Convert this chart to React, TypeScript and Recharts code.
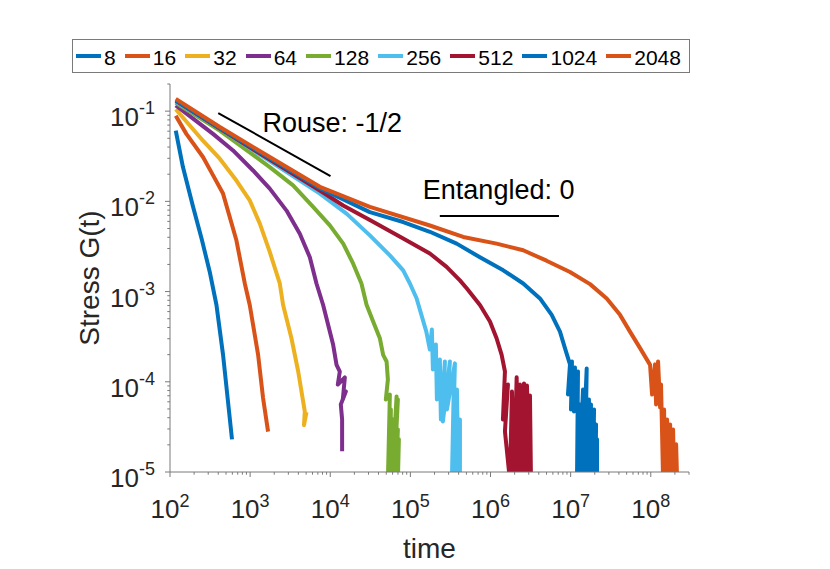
import { Legend, Line, LineChart, ReferenceDot, ReferenceLine, XAxis, YAxis } from 'recharts';

const FONT = '"Liberation Sans", Arial, Helvetica, sans-serif';
const INK = '#262626';
const AXIS = '#7a7a7a';

// chain lengths, MATLAB default colour order
const sizes = ['8', '16', '32', '64', '128', '256', '512', '1024', '2048'];
const colors = ['#0072BD', '#D95319', '#EDB120', '#7E2F8E', '#77AC30', '#4DBEEE', '#A2142F', '#0072BD', '#D95319'];

// G(t), one pair of arrays per chain length.
// The noisy tails go back and forth, as in the plotted simulation output.
const t8 = [118, 145, 194, 249, 313, 380, 459, 594];
const g8 = [0.061, 0.024, 0.0087, 0.0038, 0.00166, 7.1e-4, 2.0e-4, 2.3e-5];

const t16 = [118, 160, 258, 341, 459, 674, 858, 989, 1257, 1450, 1675];
const g16 = [0.089, 0.056, 0.031, 0.0198, 0.0122, 0.0037, 0.00123, 7.1e-4, 2.0e-4, 6.6e-5, 2.8e-5];

const t32 = [118, 258, 418, 674, 989, 1318, 1758, 2345, 2580, 3280, 3980, 4810, 4700, 5050];
const g32 = [0.105, 0.047, 0.0297, 0.017, 0.01026, 0.0057, 0.00275, 0.00123, 7.1e-4, 3.04e-4, 1.3e-4, 4.7e-5, 3.3e-5, 4.6e-5];

const t64 = [118, 344, 612, 1088, 1758, 2845, 4169, 5560, 6730, 8150, 10870, 11980, 13160, 12420, 15210, 14350, 15650, 13540, 14060, 14060];
const g64 = [0.116, 0.056, 0.0367, 0.022, 0.01384, 0.0079, 0.00438, 0.0024, 0.00123, 7.1e-4, 2.57e-4, 1.54e-4, 1.3e-4, 9.33e-5, 1.12e-4, 6.36e-5, 7.82e-5, 5.6e-5, 3.82e-5, 1.7e-5];

const t128 = [
  118, 418, 1758, 3436, 6110, 9886, 14500, 19320, 24500, 28380, 34290, 41560, 45710, 50450, 52380, 49400, 55460, 52380,
  57080, 55460, 60420, 58770, 67250, 65900, 69820, 62230, 69820, 65900, 71840, 69820,
];
const g128 = [
  0.124, 0.061, 0.024, 0.01503, 0.0087, 0.00542, 0.0034, 0.00204, 0.00123, 7.13e-4, 4.65e-4, 3.04e-4, 1.99e-4, 1.68e-4,
  1.06e-4, 6.36e-5, 7.23e-5, 8e-6, 4.93e-5, 8e-6, 3.82e-5, 8e-6, 6.88e-5, 2.61e-5, 6.36e-5, 8e-6, 2.96e-5, 8e-6, 2.3e-5, 8e-6,
];

const t256 = [
  118, 418, 1758, 7420, 15960, 31200, 55460, 81300, 98600, 119400, 158000, 175100, 185400, 191000, 208000, 214200, 233300,
  240300, 269600, 254500, 311300, 285800, 359500, 329800, 349400, 364800, 381000, 397500, 415200, 415200,
];
const g256 = [
  0.127, 0.064, 0.028, 0.0122, 0.00731, 0.0042, 0.00252, 0.00172, 0.00123, 8.43e-4, 3.6e-4, 2.28e-4, 3.8e-4, 1.37e-4, 2.59e-4,
  6.36e-5, 1.77e-4, 3.82e-5, 1.68e-4, 3.63e-5, 1.68e-4, 4.93e-5, 1.6e-4, 8e-6, 1.06e-4, 8e-6, 8.2e-5, 8e-6, 3.82e-5, 8e-6,
];

const t512 = [
  118, 418, 1758, 7420, 14490, 31200, 81300, 175000, 283000, 415000, 504000, 738000, 984000, 1.19e6, 1.377e6, 1.514e6,
  1.429e6, 1.65e6, 1.514e6, 1.748e6, 1.852e6, 1.962e6, 2.12e6, 2.201e6, 2.332e6, 2.47e6, 2.617e6, 2.77e6, 2.851e6, 3.02e6,
  3.107e6, 3.199e6,
];
const g512 = [
  0.13, 0.064, 0.029, 0.0132, 0.009, 0.0062, 0.00387, 0.00264, 0.00188, 0.00133, 0.00109, 7.1e-4, 4.65e-4, 3.04e-4, 1.99e-4,
  1.3e-4, 3.82e-5, 9.33e-5, 2.82e-5, 8e-6, 7.8e-5, 8e-6, 1.12e-4, 8e-6, 9.33e-5, 8e-6, 9.6e-5, 8e-6, 9.1e-5, 8e-6, 7.05e-5, 8e-6,
];

const t1024 = [
  118, 418, 1758, 7420, 31200, 81300, 175000, 378000, 738000, 1.443e6, 2.56e6, 4.14e6, 5.8e6, 7.36e6, 8.49e6, 9.81e6, 9.26e6,
  1.039e7, 1.01e7, 1.133e7, 1.101e7, 1.235e7, 1.2e7, 1.308e7, 1.271e7, 1.427e7, 1.386e7, 1.586e7, 1.511e7, 1.694e7, 1.623e7,
  1.794e7, 1.744e7, 1.959e7, 1.902e7, 2.075e7, 2.044e7, 2.135e7, 2.135e7,
];
const g1024 = [
  0.132, 0.065, 0.03, 0.014, 0.0076, 0.0059, 0.0046, 0.0034, 0.0024, 0.00172, 0.00123, 8.4e-4, 5.52e-4, 3.6e-4, 2.36e-4,
  1.56e-4, 7.23e-5, 1.68e-4, 4.93e-5, 1.44e-4, 4.69e-5, 1.3e-4, 8e-6, 5.6e-5, 8e-6, 8.2e-5, 8e-6, 1.4e-4, 8e-6, 6.36e-5, 8e-6,
  5.6e-5, 8e-6, 4.93e-5, 8e-6, 3.37e-5, 8e-6, 2.3e-5, 8e-6,
];

const t2048 = [
  118, 418, 1758, 7420, 31200, 175000, 456000, 1.19e6, 2.56e6, 5.0e6, 9.81e6, 1.746e7, 2.82e7, 4.13e7, 5.5e7, 7.35e7, 9.8e7,
  1.038e8, 1.13e8, 1.165e8, 1.234e8, 1.307e8, 1.343e8, 1.425e8, 1.466e8, 1.507e8, 1.599e8, 1.644e8, 1.743e8, 1.791e8, 1.9e8,
  1.954e8, 2.072e8, 2.133e8,
];
const g2048 = [
  0.137, 0.0667, 0.031, 0.0145, 0.0087, 0.0054, 0.00403, 0.0034, 0.00287, 0.0022, 0.00165, 0.00121, 8.4e-4, 5.52e-4, 3.6e-4,
  2.36e-4, 1.54e-4, 7.23e-5, 1.56e-4, 5.6e-5, 1.68e-4, 5.19e-5, 9.33e-5, 8e-6, 4.93e-5, 8e-6, 3.82e-5, 8e-6, 3.37e-5, 8e-6,
  2.96e-5, 8e-6, 2.03e-5, 8e-6,
];

const times = [t8, t16, t32, t64, t128, t256, t512, t1024, t2048];
const stresses = [g8, g16, g32, g64, g128, g256, g512, g1024, g2048];

// guide lines and their captions
const rouseT = [400, 1.007e4];
const rouseG = [0.0953, 0.0191];
const entT = [2.33e5, 7.15e6];
const entG = [0.0069, 0.0069];
const noteText = ['Rouse: -1/2', 'Entangled: 0'];
const noteT = [1426, 1.43e5];
const noteG = [0.0592, 0.0107];

const xDomain = [100, 3e8];
const yDomain = [1e-5, 0.2];
const xMajor = [1e2, 1e3, 1e4, 1e5, 1e6, 1e7, 1e8];
const yMajor = [1e-5, 1e-4, 1e-3, 1e-2, 1e-1];
const minorSteps = [2, 3, 4, 5, 6, 7, 8, 9];

const xTicks = [...xMajor, ...xMajor.flatMap((d) => minorSteps.map((m) => m * d))].filter((v) => v <= xDomain[1]);
const yTicks = [...yMajor, ...yMajor.flatMap((d) => minorSteps.map((m) => m * d))].filter((v) => v <= yDomain[1] * 1.0001);

const isMajor = (v: number) => Math.abs(Math.log10(v) - Math.round(Math.log10(v))) < 1e-6;
const tickLen = (v: number) => (isMajor(v) ? 5 : 2.7);

const series = sizes.map((name, i) => ({
  name,
  color: colors[i],
  points: times[i].map((t, j) => ({ t, g: stresses[i][j] })),
}));

function BottomTick({ x, y, payload }: any) {
  const v = payload.value;
  return (
    <g>
      <line x1={x} x2={x} y1={y} y2={y + tickLen(v)} stroke={AXIS} />
      {isMajor(v) && (
        <text x={x} y={y + 46} textAnchor="middle" fontSize={26} fill={INK} fontFamily={FONT}>
          10
          <tspan dy={-11} fontSize={18}>
            {Math.round(Math.log10(v))}
          </tspan>
        </text>
      )}
    </g>
  );
}

function TopTick({ x, y, payload }: any) {
  return <line x1={x} x2={x} y1={y} y2={y - tickLen(payload.value)} stroke={AXIS} />;
}

function LeftTick({ x, y, payload }: any) {
  const v = payload.value;
  return (
    <g>
      <line x1={x} x2={x - tickLen(v)} y1={y} y2={y} stroke={AXIS} />
      {isMajor(v) && (
        <text x={x - 15} y={y + 15} textAnchor="end" fontSize={26} fill={INK} fontFamily={FONT}>
          10
          <tspan dy={-12} fontSize={18}>
            {Math.round(Math.log10(v))}
          </tspan>
        </text>
      )}
    </g>
  );
}

function RightTick({ x, y, payload }: any) {
  return <line x1={x} x2={x + tickLen(payload.value)} y1={y} y2={y} stroke={AXIS} />;
}

function LegendBox() {
  return (
    <div
      style={{
        boxSizing: 'border-box',
        width: 618,
        height: 34,
        border: `1px solid ${AXIS}`,
        background: '#fff',
        display: 'flex',
        alignItems: 'center',
        justifyContent: 'space-between',
        padding: '0 8px 0 3px',
        fontFamily: FONT,
        fontSize: 21,
        color: '#000',
      }}
    >
      {series.map((s) => (
        <div key={s.name} style={{ display: 'flex', alignItems: 'center' }}>
          <span style={{ display: 'inline-block', width: 25, height: 4, background: s.color, marginRight: 3 }} />
          <span style={{ lineHeight: 1, paddingTop: 3 }}>{s.name}</span>
        </div>
      ))}
    </div>
  );
}

const note = (text: string) => (p: any) => (
  <text x={p.viewBox.x} y={p.viewBox.y} fontSize={27} fill="#000" fontFamily={FONT}>
    {text}
  </text>
);

export default function App() {
  return (
    <div style={{ position: 'absolute', left: 0, top: 0, width: 830, height: 569, background: '#fff' }}>
      <LineChart width={830} height={569} margin={{ top: 84, right: 141, bottom: 0, left: 0 }}>
        <XAxis
          xAxisId="b"
          type="number"
          dataKey="t"
          scale="log"
          domain={xDomain}
          allowDataOverflow
          ticks={xTicks}
          interval={0}
          height={97}
          tickSize={0}
          tickMargin={0}
          tickLine={false}
          axisLine={{ stroke: AXIS }}
          tick={(p: any) => <BottomTick {...p} />}
          label={{
            content: ({ viewBox }: any) => (
              <text x={viewBox.x + viewBox.width / 2} y={viewBox.y + 86} textAnchor="middle" fontSize={28} fill={INK} fontFamily={FONT}>
                time
              </text>
            ),
          }}
        />
        <XAxis
          xAxisId="t"
          orientation="top"
          type="number"
          scale="log"
          domain={xDomain}
          allowDataOverflow
          ticks={xTicks}
          interval={0}
          height={0}
          tickSize={0}
          tickMargin={0}
          tickLine={false}
          axisLine={{ stroke: AXIS }}
          tick={(p: any) => <TopTick {...p} />}
        />
        <YAxis
          yAxisId="l"
          type="number"
          scale="log"
          domain={yDomain}
          allowDataOverflow
          ticks={yTicks}
          interval={0}
          width={170}
          tickSize={0}
          tickMargin={0}
          tickLine={false}
          axisLine={{ stroke: AXIS }}
          tick={(p: any) => <LeftTick {...p} />}
          label={{
            content: ({ viewBox }: any) => {
              const x = viewBox.x + 99;
              const y = viewBox.y + viewBox.height / 2;
              return (
                <text x={x} y={y} transform={`rotate(-90 ${x} ${y})`} textAnchor="middle" fontSize={28} fill={INK} fontFamily={FONT}>
                  Stress G(t)
                </text>
              );
            },
          }}
        />
        <YAxis
          yAxisId="r"
          orientation="right"
          type="number"
          scale="log"
          domain={yDomain}
          allowDataOverflow
          ticks={yTicks}
          interval={0}
          width={0}
          tickSize={0}
          tickMargin={0}
          tickLine={false}
          axisLine={{ stroke: AXIS }}
          tick={(p: any) => <RightTick {...p} />}
        />
        <Legend
          layout="horizontal"
          verticalAlign="middle"
          align="center"
          wrapperStyle={{ left: 72, top: 39, width: 618, height: 34 }}
          content={() => <LegendBox />}
        />
        {series.map((s) => (
          <Line
            key={s.name}
            xAxisId="b"
            yAxisId="l"
            data={s.points}
            dataKey="g"
            name={s.name}
            type="linear"
            stroke={s.color}
            strokeWidth={4}
            strokeLinejoin="round"
            dot={false}
            activeDot={false}
            isAnimationActive={false}
          />
        ))}
        <ReferenceLine
          xAxisId="b"
          yAxisId="l"
          segment={[
            { x: rouseT[0], y: rouseG[0] },
            { x: rouseT[1], y: rouseG[1] },
          ]}
          stroke="#000"
          strokeWidth={2}
        />
        <ReferenceLine
          xAxisId="b"
          yAxisId="l"
          segment={[
            { x: entT[0], y: entG[0] },
            { x: entT[1], y: entG[1] },
          ]}
          stroke="#000"
          strokeWidth={2}
        />
        {noteText.map((text, i) => (
          <ReferenceDot
            key={text}
            xAxisId="b"
            yAxisId="l"
            x={noteT[i]}
            y={noteG[i]}
            r={0}
            fill="none"
            stroke="none"
            label={note(text)}
          />
        ))}
      </LineChart>
    </div>
  );
}
